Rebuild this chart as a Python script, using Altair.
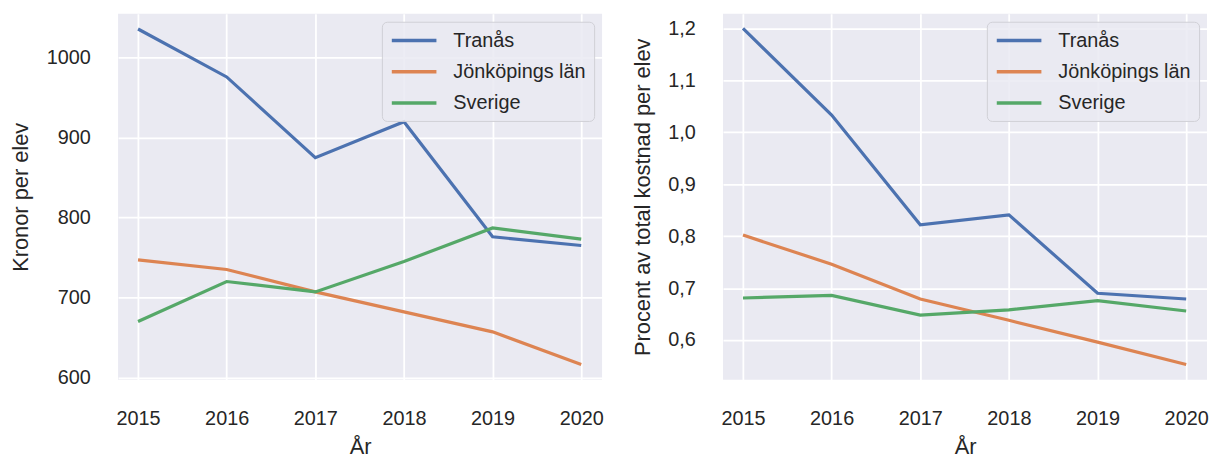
import altair as alt
import pandas as pd

years = [2015, 2016, 2017, 2018, 2019, 2020]
regions = ["Tranås", "Jönköpings län", "Sverige"]
colors = ["#4C72B0", "#DD8452", "#55A868"]

kr_tranas = [1036, 976, 875, 920, 776, 765]
kr_jkpg = [747, 735, 707, 682, 657, 616]
kr_sverige = [670, 720, 707, 745, 787, 773]

pct_tranas = [1.200, 1.033, 0.822, 0.841, 0.690, 0.679]
pct_jkpg = [0.802, 0.746, 0.679, 0.638, 0.596, 0.553]
pct_sverige = [0.681, 0.686, 0.648, 0.658, 0.676, 0.656]

left_ticks = [600, 700, 800, 900, 1000]
right_ticks = [0.6, 0.7, 0.8, 0.9, 1.0, 1.1, 1.2]


def long_df(series):
    rows = []
    for name, vals in zip(regions, series):
        for y, v in zip(years, vals):
            rows.append({"År": y, "Region": name, "value": v})
    return pd.DataFrame(rows)


df_left = long_df([kr_tranas, kr_jkpg, kr_sverige])
df_right = long_df([pct_tranas, pct_jkpg, pct_sverige])

FONT = "Liberation Sans"
TXT = "#262626"

legend = alt.Legend(
    title=None,
    orient="top-right",
    offset=8,
    symbolType="M-1,0H4",
    symbolSize=324,
    symbolStrokeWidth=3.5,
    labelFontSize=20,
    labelFont=FONT,
    labelColor=TXT,
    labelOffset=42,
    rowPadding=10.5,
    padding=8,
    fillColor="rgba(234,234,242,0.85)",
    strokeColor="#cfcfd6",
    cornerRadius=5,
)

color = alt.Color(
    "Region:N",
    scale=alt.Scale(domain=regions, range=colors),
    sort=regions,
    legend=legend,
)

x_enc = alt.X(
    "År:Q",
    title="År",
    scale=alt.Scale(domain=[2014.775, 2020.235], nice=False, zero=False),
    axis=alt.Axis(values=years, format="d", labelPadding=29, titlePadding=8),
)


def panel(df, ytitle, domain, ticks, height, label_expr=None, fmt=None):
    axis_kwargs = dict(values=ticks, labelPadding=28, titlePadding=13.5)
    if label_expr:
        axis_kwargs["labelExpr"] = label_expr
    if fmt:
        axis_kwargs["format"] = fmt
    return (
        alt.Chart(df)
        .mark_line(strokeWidth=3.2)
        .encode(
            x=x_enc,
            y=alt.Y(
                "value:Q",
                title=ytitle,
                scale=alt.Scale(domain=domain, nice=False, zero=False),
                axis=alt.Axis(**axis_kwargs),
            ),
            color=color,
            order=alt.Order("År:Q"),
        )
        .properties(width=488, height=height)
    )


left = panel(df_left, "Kronor per elev", [597, 1055], left_ticks, 369, fmt="d")
right = panel(
    df_right,
    "Procent av total kostnad per elev",
    [0.5235, 1.228],
    right_ticks,
    369,
    label_expr="replace(format(datum.value, '.1f'), '.', ',')",
)

chart = (
    alt.hconcat(
        left,
        right,
        spacing=27,
        background="white",
        padding={"left": 2, "top": 4, "right": 0, "bottom": 0},
    )
    .resolve_scale(color="independent")
    .resolve_legend(color="independent")
    .configure_view(fill="#EAEAF2", stroke=None)
    .configure_axis(
        grid=True,
        gridColor="white",
        gridWidth=1.8,
        domain=False,
        ticks=False,
        labelFont=FONT,
        labelFontSize=20,
        labelColor=TXT,
        titleFont=FONT,
        titleFontSize=22,
        titleFontWeight="normal",
        titleColor=TXT,
    )
)

chart.save("out.html", embed_options={"renderer": "svg", "actions": False})
